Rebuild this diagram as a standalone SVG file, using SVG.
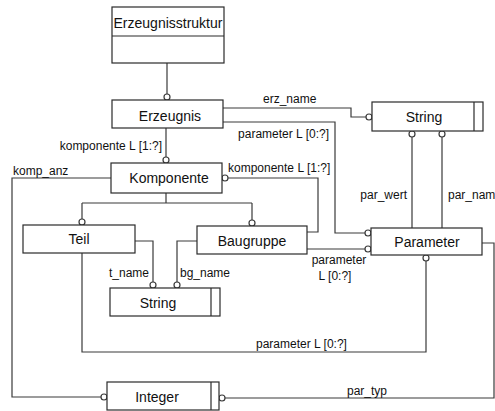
<svg xmlns="http://www.w3.org/2000/svg" width="495" height="411" viewBox="0 0 495 411">
  <style>
    .box { fill: #fff; stroke: #2a2a2a; stroke-width: 1.2; }
    .div { stroke: #2a2a2a; stroke-width: 1.2; fill: none; }
    .ln { fill: none; stroke: #3a3a3a; stroke-width: 1.2; }
    .o { fill: #fff; stroke: #3a3a3a; stroke-width: 1.2; }
    .nt { font-family: "Liberation Sans", Arial, sans-serif; font-size: 14px; fill: #111; text-anchor: middle; }
    .lb { font-family: "Liberation Sans", Arial, sans-serif; font-size: 12px; fill: #111; }
  </style>
  <rect width="495" height="411" fill="#fff"/>

  <!-- connectors -->
  <g id="connectors">
    <!-- Erzeugnisstruktur to Erzeugnis -->
    <path class="ln" d="M167,63 V94"/>
    <circle class="o" cx="167" cy="97" r="3"/>
    <!-- Erzeugnis to Komponente -->
    <path class="ln" d="M166,128 V157"/>
    <circle class="o" cx="166" cy="160" r="3"/>
    <text class="lb" x="162" y="150" text-anchor="end">komponente L [1:?]</text>
    <!-- komp_anz -->
    <path class="ln" d="M111,178 H12 V397 H101"/>
    <circle class="o" cx="104" cy="397" r="3"/>
    <text class="lb" x="13" y="175">komp_anz</text>
    <!-- subtypes of Komponente -->
    <path class="ln" d="M166,193 V203 M82,203 H252 M82,203 V219 M252,203 V220"/>
    <circle class="o" cx="82" cy="222" r="3"/>
    <circle class="o" cx="252" cy="223" r="3"/>
    <!-- Baugruppe komponente -->
    <circle class="o" cx="225" cy="178" r="3"/>
    <path class="ln" d="M228,178 H318 V232 H307"/>
    <text class="lb" x="228" y="172">komponente L [1:?]</text>
    <!-- erz_name -->
    <path class="ln" d="M223,108 H351 V117 H366"/>
    <circle class="o" cx="369" cy="117" r="3"/>
    <text class="lb" x="263" y="103">erz_name</text>
    <!-- Erzeugnis parameter -->
    <path class="ln" d="M223,122 H335 V233 H365"/>
    <circle class="o" cx="368" cy="233" r="3"/>
    <text class="lb" x="329" y="138" text-anchor="end">parameter L [0:?]</text>
    <!-- Baugruppe parameter -->
    <path class="ln" d="M307,249 H365"/>
    <circle class="o" cx="368" cy="249" r="3"/>
    <text class="lb" x="339" y="264" text-anchor="middle">parameter</text>
    <text class="lb" x="335" y="280" text-anchor="middle">L [0:?]</text>
    <!-- par_wert / par_name -->
    <path class="ln" d="M412,137 V228 M442,137 V228"/>
    <circle class="o" cx="412" cy="134" r="3"/>
    <circle class="o" cx="442" cy="134" r="3"/>
    <text class="lb" x="407" y="199" text-anchor="end">par_wert</text>
    <text class="lb" x="448" y="199">par_name</text>
    <!-- t_name / bg_name -->
    <path class="ln" d="M135,241 H153 V282 M197,241 H177 V282"/>
    <circle class="o" cx="153" cy="285" r="3"/>
    <circle class="o" cx="177" cy="285" r="3"/>
    <text class="lb" x="109" y="277">t_name</text>
    <text class="lb" x="180" y="277">bg_name</text>
    <!-- Teil parameter -->
    <path class="ln" d="M82,253 V352 H426 V261"/>
    <circle class="o" cx="426" cy="258" r="3"/>
    <text class="lb" x="256" y="348">parameter L [0:?]</text>
    <!-- par_typ -->
    <path class="ln" d="M482,243 H494 V398 H225"/>
    <circle class="o" cx="222" cy="398" r="3"/>
    <text class="lb" x="347" y="395">par_typ</text>
  </g>

  <g id="erzeugnisstruktur">
    <rect class="box" x="112" y="7" width="112" height="56"/>
    <path class="div" d="M112,36 H224"/>
    <text class="nt" x="168" y="28">Erzeugnisstruktur</text>
  </g>
  <g id="erzeugnis">
    <rect class="box" x="112" y="100" width="111" height="28"/>
    <text class="nt" x="170" y="121">Erzeugnis</text>
  </g>
  <g id="komponente">
    <rect class="box" x="111" y="163" width="111" height="30"/>
    <text class="nt" x="169" y="183">Komponente</text>
  </g>
  <g id="teil">
    <rect class="box" x="23" y="225" width="112" height="28"/>
    <text class="nt" x="79" y="244">Teil</text>
  </g>
  <g id="baugruppe">
    <rect class="box" x="197" y="226" width="110" height="28"/>
    <text class="nt" x="252" y="246">Baugruppe</text>
  </g>
  <g id="string-top">
    <rect class="box" x="372" y="102" width="111" height="29"/>
    <path class="div" d="M474,102 V131"/>
    <text class="nt" x="424" y="122">String</text>
  </g>
  <g id="parameter">
    <rect class="box" x="371" y="228" width="111" height="27"/>
    <text class="nt" x="427" y="247">Parameter</text>
  </g>
  <g id="string-bottom">
    <rect class="box" x="110" y="288" width="110" height="28"/>
    <path class="div" d="M211,288 V316"/>
    <text class="nt" x="158" y="308">String</text>
  </g>
  <g id="integer">
    <rect class="box" x="107" y="382" width="112" height="28"/>
    <path class="div" d="M211,382 V410"/>
    <text class="nt" x="157" y="402">Integer</text>
  </g>
</svg>
